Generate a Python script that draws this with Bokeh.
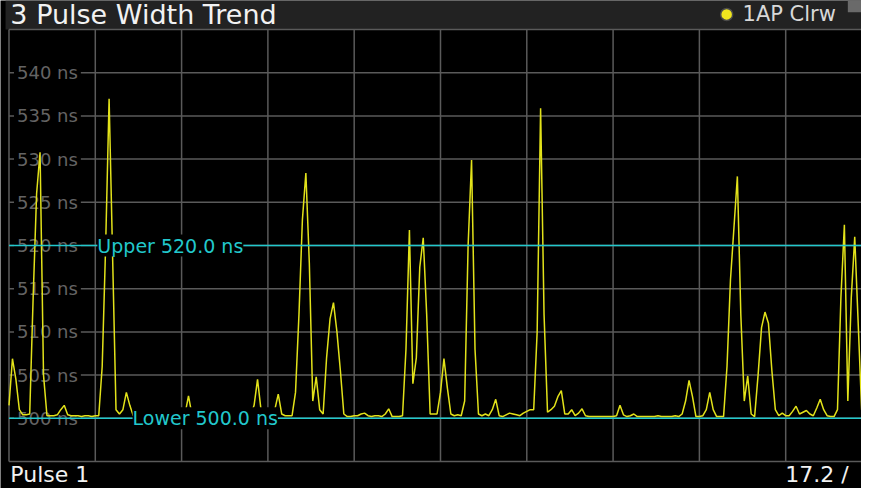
from bokeh.plotting import figure
from bokeh.models import Range1d
from bokeh.core.properties import value
from bokeh.embed import file_html
from bokeh.resources import INLINE

# ---- data ----
pulse_width_ns = [
    501.5, 506.9, 504.5, 501.0, 500.4, 500.4, 500.5, 514.0, 526.0, 530.8,
    505.0, 500.3, 500.3, 500.3, 500.4, 501.0, 501.5, 500.4, 500.3, 500.3,
    500.3, 500.2, 500.3, 500.3, 500.2, 500.3, 500.3, 506.0, 520.0, 537.0,
    519.0, 501.0, 500.5, 501.0, 503.0, 501.5, 500.3, 500.3, 500.3, 500.2,
    500.3, 500.3, 500.2, 500.3, 500.3, 500.3, 500.2, 500.3, 500.3, 500.3,
    500.3, 500.5, 502.6, 500.4, 500.3, 500.3, 500.2, 500.3, 500.3, 500.3,
    500.3, 500.2, 500.3, 500.3, 500.3, 500.4, 500.3, 500.3, 500.2, 500.3,
    500.3, 501.5, 504.5, 501.0, 500.3, 500.3, 500.4, 501.0, 502.8, 500.5,
    500.3, 500.3, 500.3, 503.0, 512.0, 523.0, 528.4, 518.0, 502.0, 504.8,
    501.0, 500.5, 507.0, 511.5, 513.4, 510.0, 505.5, 500.5, 500.2, 500.2,
    500.3, 500.3, 500.5, 500.6, 500.3, 500.2, 500.3, 500.3, 500.2, 500.5,
    501.1, 500.2, 500.2, 500.2, 500.3, 508.0, 521.8, 504.0, 507.0, 517.5,
    520.9, 512.0, 500.5, 500.5, 500.5, 503.0, 506.9, 503.5, 500.5, 500.3,
    500.4, 500.3, 502.0, 520.0, 529.9, 508.0, 500.5, 500.3, 500.5, 500.3,
    501.0, 502.2, 500.3, 500.2, 500.4, 500.6, 500.5, 500.4, 500.3, 500.6,
    500.8, 501.0, 501.0, 510.0, 535.9, 512.0, 500.7, 501.0, 501.4, 502.5,
    503.2, 500.5, 500.5, 501.0, 500.3, 500.6, 501.1, 500.3, 500.2, 500.2,
    500.2, 500.2, 500.2, 500.2, 500.2, 500.2, 500.3, 501.5, 500.4, 500.2,
    500.3, 500.5, 500.2, 500.2, 500.2, 500.2, 500.2, 500.2, 500.3, 500.2,
    500.2, 500.2, 500.2, 500.3, 500.2, 500.5, 502.0, 504.4, 502.5, 500.2,
    500.2, 500.3, 501.0, 503.0, 501.0, 500.2, 500.2, 500.2, 506.0, 516.0,
    522.0, 528.0, 512.0, 502.0, 504.9, 500.5, 500.2, 505.0, 510.5, 512.3,
    511.0, 505.5, 501.0, 500.3, 500.6, 500.3, 500.3, 500.8, 501.4, 500.5,
    500.7, 500.9, 500.5, 500.3, 501.2, 502.2, 501.0, 500.3, 500.2, 500.2,
    501.0, 514.0, 522.4, 502.0, 514.0, 521.0, 511.0, 501.0, 500.3,
]
pulse_index = list(range(len(pulse_width_ns)))

y_tick_values = [540, 535, 530, 525, 520, 515, 510, 505, 500]
y_tick_labels = ["540 ns", "535 ns", "530 ns", "525 ns", "520 ns",
                 "515 ns", "510 ns", "505 ns", "500 ns"]
x_grid_values = [0, 25, 50, 75, 100, 125, 150, 175, 200, 225, 250]
y_grid_values = [495, 500, 505, 510, 515, 520, 525, 530, 535, 540, 545]

upper_limit = 520.0
lower_limit = 500.0
title_text = "3 Pulse Width Trend"
trace_label = "1AP Clrw"
footer_left = "Pulse 1"
footer_right = "17.2 /"

FONT = "DejaVu Sans"

# whole canvas is the frame; plot area spans pulses 0..~247 and 495..545 ns
X0, X1 = -2.46, 246.96
Y0, Y1 = 491.875, 548.36
GRID_TOP, GRID_BOTTOM = y_grid_values[-1], y_grid_values[0]

p = figure(width=861, height=488, output_backend="svg", toolbar_location=None,
           x_range=Range1d(X0, X1), y_range=Range1d(Y0, Y1),
           min_border=0, background_fill_color="black",
           border_fill_color="black", outline_line_color=None)
p.xaxis.visible = False
p.yaxis.visible = False
p.xgrid.visible = False
p.ygrid.visible = False

# header bar
p.quad(left=[-1.0], right=[X1], bottom=[GRID_TOP], top=[Y1],
       fill_color="#222222", line_color=None)
p.quad(left=[243.0], right=[X1], bottom=[547.0], top=[Y1],
       fill_color="#6a6a6a", line_color=None)

# grid lines
p.segment(x0=[0] * len(y_grid_values), x1=[X1] * len(y_grid_values),
          y0=y_grid_values, y1=y_grid_values,
          line_color="#5a5a5a", line_width=1.5)
p.segment(x0=x_grid_values, x1=x_grid_values,
          y0=[GRID_BOTTOM] * len(x_grid_values), y1=[GRID_TOP] * len(x_grid_values),
          line_color="#5a5a5a", line_width=1.5)

# y tick labels inside plot (under the traces)
p.text(x=[0] * len(y_tick_values), y=y_tick_values, text=y_tick_labels,
       x_offset=5, text_font=value(FONT), text_font_size="18px",
       text_color="#646464", text_baseline="middle", text_align="left",
       background_fill_color="black", padding=3)

# trace
p.line(pulse_index, pulse_width_ns, line_color="#e2e21a", line_width=1.5)

# limit lines
for lim in (upper_limit, lower_limit):
    p.segment(x0=[0], x1=[X1], y0=[lim], y1=[lim], line_color="#22c8cc",
              line_width=1.5)
p.text(x=[25.6], y=[upper_limit], text=["Upper %.1f ns" % upper_limit],
       text_font=value(FONT), text_font_size="19px", text_color="#22c8cc",
       text_baseline="middle", background_fill_color="black")
p.text(x=[35.8], y=[lower_limit], text=["Lower %.1f ns" % lower_limit],
       text_font=value(FONT), text_font_size="19px", text_color="#22c8cc",
       text_baseline="middle", background_fill_color="black")

# header texts
p.text(x=[0.4], y=[546.75], text=[title_text], text_font=value(FONT),
       text_font_size="27px", text_color="#f2f2f2", text_baseline="middle")
p.scatter(x=[207.9], y=[546.75], size=12, fill_color="#f0e61e",
          line_color="#4a4a4a", line_width=1.5)
p.text(x=[212.5], y=[546.75], text=[trace_label], text_font=value(FONT),
       text_font_size="21px", text_color="#d8d8d8", text_baseline="middle")

# footer texts
p.text(x=[0.4], y=[493.45], text=[footer_left], text_font=value(FONT),
       text_font_size="22px", text_color="#f2f2f2", text_baseline="middle")
p.text(x=[224.9], y=[493.45], text=[footer_right], text_font=value(FONT),
       text_font_size="22px", text_color="#f2f2f2", text_baseline="middle")

open("out.html", "w").write(file_html(p, INLINE))
